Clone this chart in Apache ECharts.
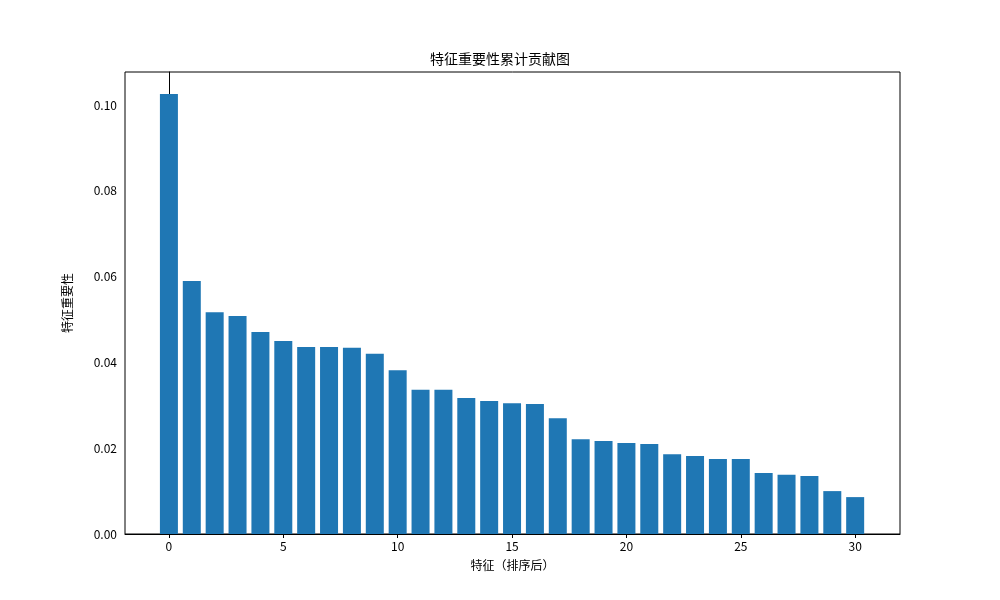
<!DOCTYPE html>
<html><head><meta charset="utf-8">
<script src="https://cdn.jsdelivr.net/npm/echarts@6/dist/echarts.min.js"></script>
<style>html,body{margin:0;padding:0;background:#fff}#c{width:1000px;height:600px}</style>
</head><body><div id="c"></div>
<script>
const positions = Array.from({length:31},(_,i)=>i);
const importance = [0.1026,0.0590,0.0517,0.0508,0.0471,0.0450,0.0436,0.0436,0.0434,0.0420,0.0382,0.0336,0.0336,0.0317,0.0310,0.0305,0.0303,0.0270,0.0221,0.0217,0.0212,0.0210,0.0186,0.0182,0.0175,0.0175,0.0142,0.0138,0.0135,0.0100,0.0086];
const xTicks = [0,5,10,15,20,25,30];
const yTicks = [0,0.02,0.04,0.06,0.08,0.10];
const font = '"Noto Sans CJK SC", "DejaVu Sans", sans-serif';
const chart = echarts.init(document.getElementById('c'));
chart.setOption({
  animation:false,
  textStyle:{fontFamily:font,color:'#000'},
  title:{text:'特征重要性累计贡献图',left:'center',top:47,textStyle:{fontSize:14,fontWeight:'normal',color:'#000',fontFamily:font}},
  grid:{left:125,right:100,top:72,bottom:66,show:true,borderColor:'#000',borderWidth:1,backgroundColor:'#fff'},
  xAxis:{type:'value',min:-1.92,max:31.96,name:'特征（排序后）',nameLocation:'middle',nameGap:25,
    nameTextStyle:{fontSize:12,color:'#000',fontFamily:font},
    splitLine:{show:false},axisLine:{show:true,onZero:false,lineStyle:{color:'#000'}},
    axisTick:{show:true,inside:false,length:4,customValues:xTicks,lineStyle:{color:'#000'}},
    axisLabel:{customValues:xTicks,color:'#000',fontSize:12,margin:6,fontFamily:font}},
  yAxis:{type:'value',min:0,max:0.1077,name:'特征重要性',nameLocation:'middle',nameGap:52,
    nameTextStyle:{fontSize:12,color:'#000',fontFamily:font},
    splitLine:{show:false},axisLine:{show:true,lineStyle:{color:'#000'}},
    axisTick:{show:true,length:4,customValues:yTicks,lineStyle:{color:'#000'}},
    axisLabel:{customValues:yTicks,formatter:v=>v.toFixed(2),color:'#000',fontSize:12,margin:8,fontFamily:font}},
  series:[{type:'bar',data:positions.map((p,i)=>[p,importance[i]]),barWidth:18,itemStyle:{color:'#1f77b4'}}]
});
</script></body></html>
